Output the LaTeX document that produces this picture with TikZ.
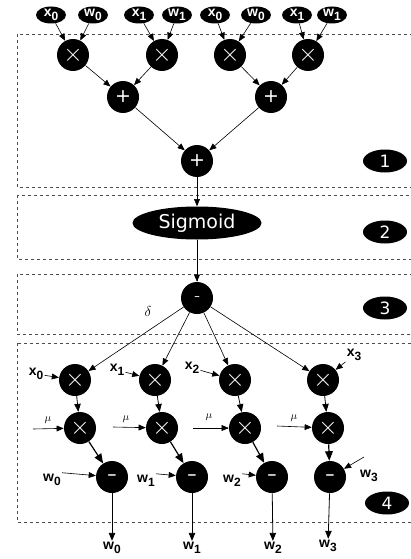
\documentclass[tikz,border=0pt]{standalone}
\usepackage{amsmath}
\usepackage{fontspec}
\setmainfont{Liberation Sans}
\newfontfamily\opfont{DejaVu Sans}
\usetikzlibrary{shapes,arrows,positioning}
\newcommand{\vsub}[2]{#1\raisebox{-0.6ex}{\fontsize{12}{12}\selectfont #2}}
\newcommand{\mulsym}{\fontsize{28}{28}\selectfont$\times$}
\tikzset{opnode/.style={circle,fill=black,text=white,inner sep=0pt,
minimum size=32pt, font=\opfont\fontsize{19}{19}\selectfont},
subnode/.style={opnode,font=\bfseries\fontsize{15}{15}\selectfont},
innode/.style={ellipse,fill=black,text=white,inner sep=0pt,
minimum width=30pt,minimum height=17pt, font=\bfseries\fontsize{14}{14}\selectfont},
stagenode/.style={innode,minimum width=44pt,minimum height=23pt,font=\opfont\fontsize{17}{17}\selectfont},
sigmoidnode/.style={innode,minimum width=129pt,minimum height=33pt,font=\opfont\fontsize{19}{19}\selectfont},
varlab/.style={inner sep=1pt,font=\bfseries\fontsize{14}{14}\selectfont},
greeklab/.style={inner sep=1pt,font=\fontsize{14}{14}\selectfont},
mulab/.style={inner sep=1pt,font=\fontsize{11}{11}\selectfont},
stagebox/.style={draw=black!70,dashed,line width=0.6pt},
>={triangle 45}}

\begin{document}
\begin{tikzpicture}[x=1pt,y=-1pt,line width=0.6pt]
\useasboundingbox (0,0) rectangle (411,559);
% stage boxes
\draw[stagebox] (17,34) rectangle (416,187);
\draw[stagebox] (17,195) rectangle (416,259);
\draw[stagebox] (17,274) rectangle (416,334);
\draw[stagebox] (17,343) rectangle (416,522);
\node(st1) [stagenode] at (385,161) {1};
\node(st2) [stagenode] at (385,232) {2};
\node(st3) [stagenode] at (385,308) {3};
\node(st4) [stagenode] at (387,503) {4};
% forward pass
\node(a0) [innode] at (51,15) {\vsub{x}{0}};
\node(b0) [innode] at (93,15) {\vsub{w}{0}};
\node(a1) [innode] at (139,15) {\vsub{x}{1}};
\node(b1) [innode] at (177,15) {\vsub{w}{1}};
\node(a2) [innode] at (215,15) {\vsub{x}{0}};
\node(b2) [innode] at (256,15) {\vsub{w}{0}};
\node(a3) [innode] at (297,15) {\vsub{x}{1}};
\node(b3) [innode] at (332,15) {\vsub{w}{1}};
\node(m0) [opnode] at (73,55) {\mulsym};
\node(m1) [opnode] at (162,55) {\mulsym};
\node(m2) [opnode] at (230,55) {\mulsym};
\node(m3) [opnode] at (308,55) {\mulsym};
\node(s0) [opnode] at (123,97) {+};
\node(s1) [opnode] at (271,97) {+};
\node(s2) [opnode] at (197,161) {+};
\node(sig) [sigmoidnode] at (197,223) {Sigmoid};
\node(d) [opnode,font=\bfseries\fontsize{9}{9}\selectfont] at (197,298) {–};
% update
\node(p0) [opnode] at (75,380) {\mulsym};
\node(p1) [opnode] at (155,380) {\mulsym};
\node(p2) [opnode] at (235,380) {\mulsym};
\node(p3) [opnode] at (323,380) {\mulsym};
\node(q0) [opnode] at (80,428) {\mulsym};
\node(q1) [opnode] at (162,428) {\mulsym};
\node(q2) [opnode] at (245,428) {\mulsym};
\node(q3) [opnode] at (328,428) {\mulsym};
\node(r0) [subnode] at (112,477) {–};
\node(r1) [subnode] at (192,477) {–};
\node(r2) [subnode] at (272,477) {–};
\node(r3) [subnode] at (330,477) {–};
\node(xl0) [varlab] at (36,374) {\vsub{x}{0}};
\node(xl1) [varlab] at (117,370) {\vsub{x}{1}};
\node(xl2) [varlab] at (192,368) {\vsub{x}{2}};
\node(xl3) [varlab] at (354,355) {\vsub{x}{3}};
\node(wl0) [varlab] at (52,480) {\vsub{w}{0}};
\node(wl1) [varlab] at (146,481) {\vsub{w}{1}};
\node(wl2) [varlab] at (232,481) {\vsub{w}{2}};
\node(wl3) [varlab] at (369,476) {\vsub{w}{3}};
\coordinate(w3s) at (364,457);
\node(o0) [varlab] at (112,548) {\vsub{w}{0}};
\node(o1) [varlab] at (192,548) {\vsub{w}{1}};
\node(o2) [varlab] at (273,548) {\vsub{w}{2}};
\node(o3) [varlab] at (328,546) {\vsub{w}{3}};
\node(dl) [greeklab] at (148,311) {$\delta$};
\coordinate(mu0) at (33,429);
\coordinate(mu1) at (113,427);
\coordinate(mu2) at (193,428);
\coordinate(mu3) at (277,426);
\node(ml0) [mulab] at (48,420) {$\mu$};
\node(ml1) [mulab] at (126,419) {$\mu$};
\node(ml2) [mulab] at (209,417) {$\mu$};
\node(ml3) [mulab] at (294,418) {$\mu$};

\draw
(a0)
   edge [->]
(m0);
\draw
(b0)
   edge [->]
(m0);
\draw
(a1)
   edge [->]
(m1);
\draw
(b1)
   edge [->]
(m1);
\draw
(a2)
   edge [->]
(m2);
\draw
(b2)
   edge [->]
(m2);
\draw
(a3)
   edge [->]
(m3);
\draw
(b3)
   edge [->]
(m3);
\draw
(m0)
   edge [->]
(s0);
\draw
(m1)
   edge [->]
(s0);
\draw
(m2)
   edge [->]
(s1);
\draw
(m3)
   edge [->]
(s1);
\draw
(s0)
   edge [->]
(s2);
\draw
(s1)
   edge [->]
(s2);
\draw
(s2)
   edge [->]
(sig);
\draw
(sig)
   edge [->]
(d);
\draw
(d)
   edge [->]
(p0);
\draw
(d)
   edge [->]
(p1);
\draw
(d)
   edge [->]
(p2);
\draw
(d)
   edge [->]
(p3);
\draw
(xl0)
   edge [->]
(p0);
\draw
(xl1)
   edge [->]
(p1);
\draw
(xl2)
   edge [->]
(p2);
\draw
(xl3)
   edge [->]
(p3);
\draw
(p0)
   edge [->,thick]
(q0);
\draw
(p1)
   edge [->,thick]
(q1);
\draw
(p2)
   edge [->,thick]
(q2);
\draw
(p3)
   edge [->,thick]
(q3);
\draw
(mu0)
   edge [->]
(q0);
\draw
(mu1)
   edge [->]
(q1);
\draw
(mu2)
   edge [->]
(q2);
\draw
(mu3)
   edge [->]
(q3);
\draw
(q0)
   edge [->,very thick]
(r0);
\draw
(q1)
   edge [->,very thick]
(r1);
\draw
(q2)
   edge [->,very thick]
(r2);
\draw
(q3)
   edge [->,very thick]
(r3);
\draw
(wl0.north east)
   edge [->]
(r0);
\draw
(wl1.north east)
   edge [->]
(r1);
\draw
(wl2.north east)
   edge [->]
(r2);
\draw
(w3s)
   edge [->]
(r3);
\draw
(r0)
   edge [->,thick]
(o0);
\draw
(r1)
   edge [->,thick]
(o1);
\draw
(r2)
   edge [->,thick]
(o2);
\draw
(r3)
   edge [->,thick]
(o3);
\end{tikzpicture}
\end{document}
